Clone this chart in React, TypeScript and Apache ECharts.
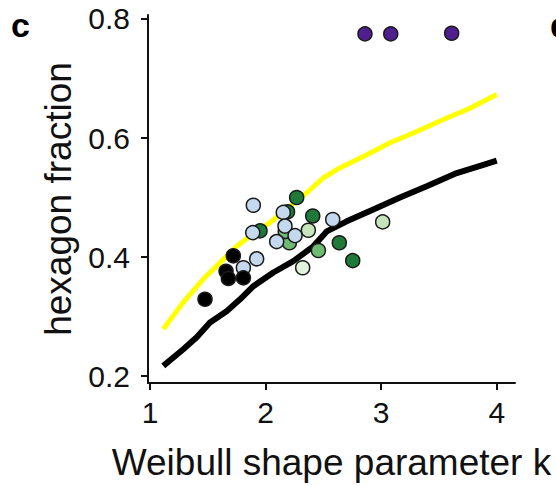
import React, { useEffect, useRef } from "react";
import * as echarts from "echarts";

// Model curves (x = Weibull shape k, y = hexagon fraction)
const yellowCurve: [number, number][] = [
  [1.115, 0.279], [1.288, 0.324], [1.461, 0.363], [1.635, 0.396], [1.75, 0.418],
  [1.865, 0.435], [2.038, 0.458], [2.211, 0.485], [2.356, 0.508], [2.5, 0.533],
  [2.615, 0.547], [2.846, 0.569], [3.077, 0.592], [3.308, 0.611], [3.538, 0.631],
  [3.769, 0.65], [4.0, 0.673],
];
const blackCurve: [number, number][] = [
  [1.115, 0.217], [1.288, 0.245], [1.404, 0.265], [1.519, 0.29], [1.663, 0.309],
  [1.779, 0.329], [1.894, 0.351], [2.067, 0.374], [2.24, 0.393], [2.413, 0.418],
  [2.529, 0.443], [2.702, 0.46], [2.932, 0.48], [3.163, 0.5], [3.394, 0.519],
  [3.654, 0.541], [3.884, 0.555], [4.0, 0.562],
];

// Observations
const darkGreenPts: [number, number][] = [
  [2.269, 0.5], [2.408, 0.469], [2.638, 0.424], [2.754, 0.394], [1.952, 0.444], [2.19, 0.476],
];
const midGreenPts: [number, number][] = [
  [2.206, 0.424], [2.457, 0.411], [2.17, 0.443],
];
const lightGreenPts: [number, number][] = [
  [2.37, 0.445], [3.013, 0.459],
];
const paleGreenPts: [number, number][] = [
  [2.321, 0.382],
];
const lightBluePts: [number, number][] = [
  [1.894, 0.487], [2.153, 0.475], [1.889, 0.441], [2.168, 0.452], [2.096, 0.426],
  [2.255, 0.436], [2.581, 0.463], [1.923, 0.397], [1.808, 0.382],
];
const blackPts: [number, number][] = [
  [1.476, 0.329], [1.721, 0.402], [1.658, 0.376], [1.678, 0.364], [1.808, 0.365],
];
const purplePts: [number, number][] = [
  [2.86, 0.775], [3.083, 0.775], [3.61, 0.776],
];

const xTicks = [1, 2, 3, 4];
const yTicks = [0.2, 0.4, 0.6, 0.8];

const FONT = "Liberation Sans, Arial, sans-serif";

function scatter(data: [number, number][], color: string) {
  return {
    type: "scatter",
    data,
    symbol: "circle",
    symbolSize: 14,
    z: 3,
    itemStyle: { color, borderColor: "#1a1a1a", borderWidth: 1.5, opacity: 1 },
  };
}

export default function App() {
  const ref = useRef<HTMLDivElement>(null);
  useEffect(() => {
    document.body.style.margin = "0";
    const chart = echarts.init(ref.current!, null, { renderer: "svg" });
    chart.setOption({
      animation: false,
      backgroundColor: "#ffffff",
      grid: { left: 148, top: 15, width: 367, height: 369, containLabel: false },
      xAxis: {
        type: "value",
        min: 0.9827,
        max: 4.158,
        name: "Weibull shape parameter k",
        nameLocation: "middle",
        nameGap: 61,
        nameTextStyle: { fontSize: 37, color: "#111", fontFamily: FONT },
        axisLine: { show: true, lineStyle: { color: "#111", width: 2 } },
        axisTick: { show: true, customValues: xTicks, length: 7, inside: false, lineStyle: { color: "#111", width: 2 } },
        axisLabel: { customValues: xTicks, fontSize: 30, color: "#111", fontFamily: FONT, margin: 14 },
        splitLine: { show: false },
      },
      yAxis: {
        type: "value",
        min: 0.1883,
        max: 0.8067,
        name: "hexagon fraction",
        nameLocation: "middle",
        nameGap: 70,
        nameTextStyle: { fontSize: 37, color: "#111", fontFamily: FONT },
        axisLine: { show: true, lineStyle: { color: "#111", width: 2 } },
        axisTick: { show: true, customValues: yTicks, length: 7, inside: false, lineStyle: { color: "#111", width: 2 } },
        axisLabel: {
          customValues: yTicks,
          fontSize: 30,
          color: "#111",
          fontFamily: FONT,
          margin: 18,
          formatter: (v: number) => v.toFixed(1),
        },
        splitLine: { show: false },
      },
      graphic: [
        { type: "text", left: 11, top: 8, style: { text: "c", fontSize: 34, fontWeight: "bold", fill: "#000", fontFamily: FONT } },
        { type: "text", left: 550, top: 8, style: { text: "d", fontSize: 34, fontWeight: "bold", fill: "#000", fontFamily: FONT } },
      ],
      series: [
        { type: "line", data: yellowCurve, showSymbol: false, z: 2, lineStyle: { color: "#ffff00", width: 5 } },
        { type: "line", data: blackCurve, showSymbol: false, z: 2, lineStyle: { color: "#000", width: 6 } },
        scatter(darkGreenPts, "#1f7a3a"),
        scatter(midGreenPts, "#6dbb72"),
        scatter(lightGreenPts, "#c5e6bd"),
        scatter(paleGreenPts, "#e3f3dd"),
        scatter(lightBluePts, "#c4d9ee"),
        scatter(blackPts, "#000000"),
        scatter(purplePts, "#4f1f8e"),
      ],
    });
    return () => chart.dispose();
  }, []);
  return <div ref={ref} style={{ width: 556, height: 486 }} />;
}
